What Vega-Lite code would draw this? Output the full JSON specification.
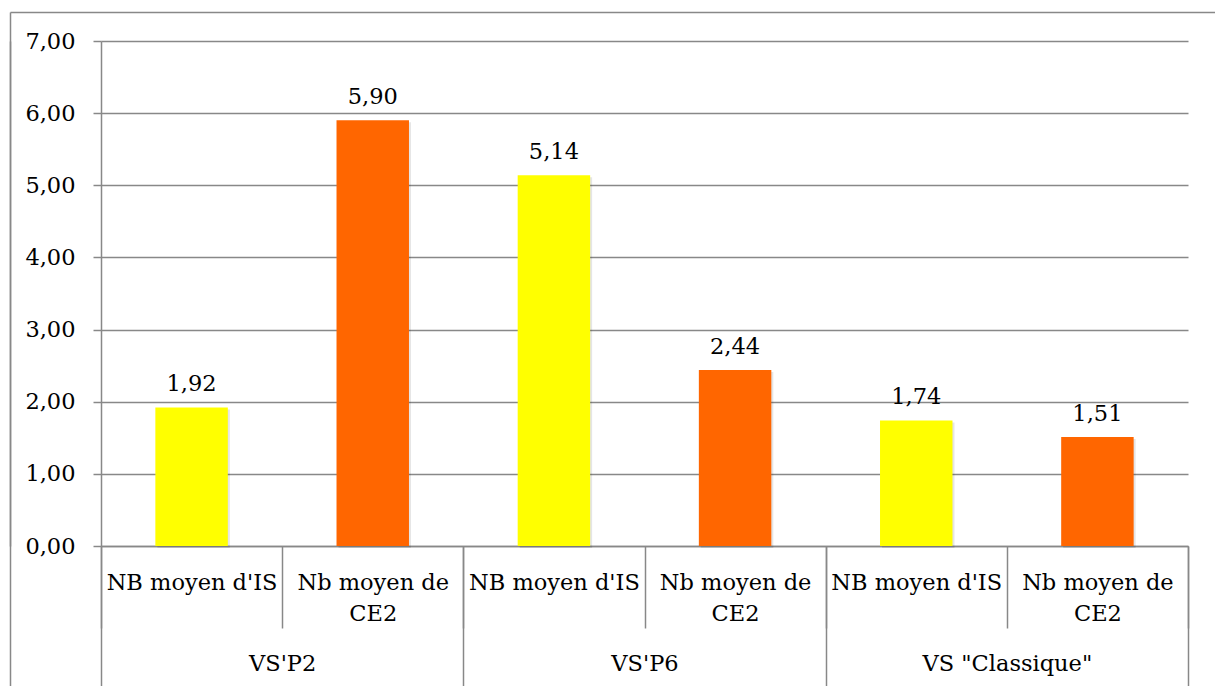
{
  "$schema": "https://vega.github.io/schema/vega-lite/v6.json",
  "width": 1087,
  "height": 505,
  "autosize": {"type": "none"},
  "padding": {"left": 101, "top": 41, "right": 27, "bottom": 140},
  "background": "white",
  "config": {
    "locale": {"number": {"decimal": ",", "thousands": " ", "grouping": [3], "currency": ["", " €"]}},
    "font": "DejaVu Serif, serif",
    "view": {"stroke": null},
    "axis": {
      "labelFont": "DejaVu Serif, serif",
      "labelColor": "#000000",
      "labelFontSize": 22.5,
      "domainColor": "#888888",
      "tickColor": "#888888",
      "gridColor": "#888888",
      "domainWidth": 1.5,
      "tickWidth": 1.5,
      "gridWidth": 1.5
    }
  },
  "data": {
    "values": [
      {"group": "VS'P2", "cat": "VS'P2|NB moyen d'IS", "series": "NB moyen d'IS", "value": 1.92},
      {"group": "VS'P2", "cat": "VS'P2|Nb moyen de|CE2", "series": "Nb moyen de CE2", "value": 5.90},
      {"group": "VS'P6", "cat": "VS'P6|NB moyen d'IS", "series": "NB moyen d'IS", "value": 5.14},
      {"group": "VS'P6", "cat": "VS'P6|Nb moyen de|CE2", "series": "Nb moyen de CE2", "value": 2.44},
      {"group": "VS \"Classique\"", "cat": "VS \"Classique\"|NB moyen d'IS", "series": "NB moyen d'IS", "value": 1.74},
      {"group": "VS \"Classique\"", "cat": "VS \"Classique\"|Nb moyen de|CE2", "series": "Nb moyen de CE2", "value": 1.51}
    ]
  },
  "resolve": {
    "scale": {"x": "independent", "y": "independent"},
    "axis": {"x": "independent", "y": "independent"}
  },
  "layer": [
    {
      "encoding": {
        "x": {
          "field": "cat", "type": "nominal", "sort": null,
          "scale": {"paddingInner": 0, "paddingOuter": 0},
          "axis": {
            "orient": "bottom", "title": null, "tickBand": "extent", "tickSize": 82,
            "labelPadding": -38.7, "labelBaseline": "alphabetic", "labelLineHeight": 31.5,
            "labelAngle": 0, "labelLimit": 0,
            "labelExpr": "slice(split(datum.label, '|'), 1)",
            "domain": true, "grid": false
          }
        },
        "y": {
          "field": "value", "type": "quantitative",
          "scale": {"domain": [0, 7], "nice": false},
          "axis": {
            "orient": "left", "title": null, "values": [0, 1, 2, 3, 4, 5, 6, 7], "format": ".2f",
            "tickSize": 8, "labelPadding": 18, "labelBaseline": "middle",
            "grid": true, "domain": true
          }
        }
      },
      "layer": [
        {"mark": {"type": "bar", "width": {"band": 0.4}, "color": "#000000", "opacity": 0.1, "xOffset": 2, "yOffset": 2}},
        {
          "mark": {"type": "bar", "width": {"band": 0.4}},
          "encoding": {
            "color": {
              "field": "series", "type": "nominal",
              "scale": {"domain": ["NB moyen d'IS", "Nb moyen de CE2"], "range": ["#FFFF00", "#FF6600"]},
              "legend": null
            }
          }
        },
        {
          "mark": {"type": "text", "dy": -16, "baseline": "alphabetic", "fontSize": 22.5, "color": "#000000"},
          "encoding": {"text": {"field": "value", "type": "quantitative", "format": ".2f"}}
        }
      ]
    },
    {
      "mark": {"type": "point", "opacity": 0},
      "encoding": {
        "x": {
          "field": "group", "type": "nominal", "sort": null,
          "scale": {"paddingInner": 0, "paddingOuter": 0},
          "axis": {
            "orient": "bottom", "title": null, "tickBand": "extent", "tickSize": 140,
            "labelPadding": -15.3, "labelBaseline": "alphabetic", "labelAngle": 0, "labelLimit": 0,
            "domain": false, "grid": false
          }
        },
        "y": {
          "field": "value", "type": "quantitative",
          "scale": {"domain": [0, 7], "nice": false},
          "axis": {
            "orient": "left", "offset": 91, "title": null, "values": [7], "tickOffset": -29,
            "tickSize": -1205, "labels": false, "grid": false, "domain": true
          }
        }
      }
    },
    {
      "mark": {"type": "point", "opacity": 0},
      "encoding": {
        "x": {
          "field": "group", "type": "nominal", "sort": null,
          "scale": {"paddingInner": 0, "paddingOuter": 0},
          "axis": {
            "orient": "top", "offset": 29, "title": null, "values": ["VS'P2"], "tickOffset": -272.17,
            "tickSize": -674, "labels": false, "domain": false, "grid": false
          }
        },
        "y": {
          "field": "value", "type": "quantitative",
          "scale": {"domain": [0, 7], "nice": false},
          "axis": null
        }
      }
    }
  ]
}
